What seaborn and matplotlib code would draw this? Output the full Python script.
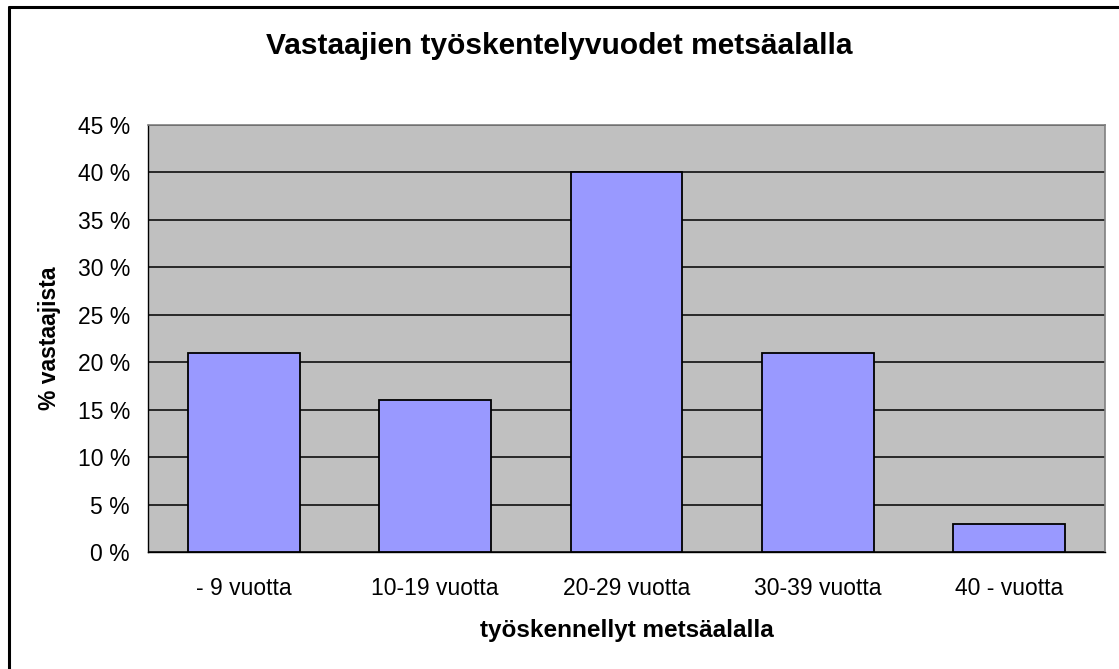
import matplotlib
matplotlib.use("Agg")
import matplotlib.pyplot as plt
from matplotlib.lines import Line2D
from matplotlib.ticker import FixedLocator
import numpy as np
import pandas as pd
import seaborn as sns

# data
categories = ["- 9 vuotta", "10-19 vuotta", "20-29 vuotta", "30-39 vuotta", "40 - vuotta"]
percent = [21, 16, 40, 21, 3]
y_ticks = [0, 5, 10, 15, 20, 25, 30, 35, 40, 45]

df = pd.DataFrame({"cat": categories, "pct": percent})

sns.set_style("white")
plt.rcParams["font.family"] = ["Liberation Sans", "DejaVu Sans"]
plt.rcParams["text.color"] = "black"
plt.rcParams["axes.labelcolor"] = "black"
plt.rcParams["xtick.color"] = "black"
plt.rcParams["ytick.color"] = "black"

W, H = 1119, 669
fig = plt.figure(figsize=(W / 100, H / 100), dpi=100)
# plot area in pixels: left 148, right 1105, top 125, bottom 552
ax = fig.add_axes([148 / W, 1 - 552 / H, (1105 - 148) / W, (552 - 125) / H])
ax.set_facecolor("#C0C0C0")

sns.barplot(data=df, x="cat", y="pct", ax=ax, color="#9999FF", width=0.585,
            edgecolor="black", linewidth=1.3, saturation=1, zorder=3)

ax.set_ylim(0, 45)
ax.set_xlim(-0.5, len(categories) - 0.5)
ax.set_yticks(y_ticks)
ax.set_yticklabels([f"{v} %" for v in y_ticks], fontsize=16.5)
ax.yaxis.grid(True, color="black", linewidth=1.1, zorder=0)
ax.set_axisbelow(True)

# x ticks sit on category borders, labels centred in categories
ax.set_xticks(range(len(categories)))
ax.set_xticklabels(categories, fontsize=16.5)
ax.tick_params(axis="x", which="major", length=0, pad=18)
ax.xaxis.set_minor_locator(FixedLocator(np.arange(-0.5, len(categories), 1.0)))
ax.tick_params(axis="x", which="minor", length=7, width=1, color="black", direction="out")
ax.tick_params(axis="y", length=7, width=1, color="black", direction="out", pad=6)

for side in ["top", "right"]:
    ax.spines[side].set_color("#808080")
    ax.spines[side].set_linewidth(1.2)
for side in ["left", "bottom"]:
    ax.spines[side].set_color("black")
    ax.spines[side].set_linewidth(1.0)

ax.set_xlabel("työskennellyt metsäalalla", fontsize=17.5, fontweight="bold", labelpad=14)
ax.set_ylabel("% vastaajista", fontsize=16.5, fontweight="bold", labelpad=12)

fig.text(0.5, 1 - 46 / H, "Vastaajien työskentelyvuodet metsäalalla",
         ha="center", va="center", fontsize=21.5, fontweight="bold")

# outer chart frame (only left and top edge visible in the reference)
fig.add_artist(Line2D([9 / W, 9 / W], [0, 1 - 7 / H], transform=fig.transFigure,
                      color="black", linewidth=2.2))
fig.add_artist(Line2D([9 / W, 1], [1 - 7 / H, 1 - 7 / H], transform=fig.transFigure,
                      color="black", linewidth=2.2))

fig.savefig("out.png", dpi=100)
